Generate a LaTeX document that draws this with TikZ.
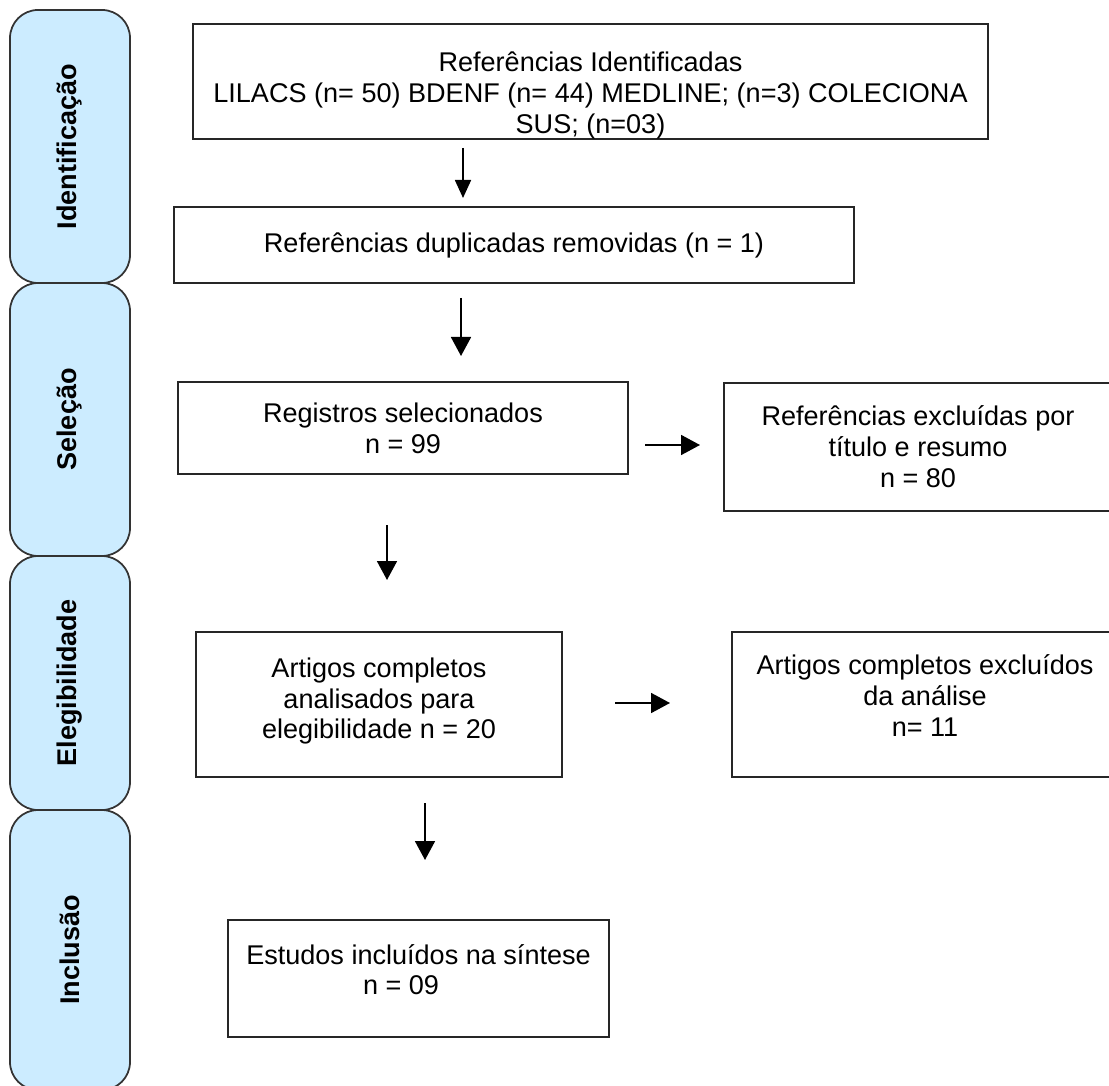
\documentclass[tikz,border=0pt]{standalone}
\usepackage{fontspec}
\setmainfont{Liberation Sans}
\usetikzlibrary{positioning, arrows.meta}
\definecolor{stagefill}{RGB}{204,236,255}

\begin{document}
\begin{tikzpicture}[
        font=\fontsize{15.4}{17.6}\selectfont,
        stage/.style={draw=black!80, line width=1pt, fill=stagefill,
            rounded corners=0.56cm, minimum width=2.4cm,
            font=\fontsize{15.4}{17.6}\selectfont\bfseries},
        box/.style={draw=black!85, line width=1pt, align=center, inner sep=0pt},
        flow/.style={-{Triangle[width=0.4cm,length=0.38cm]}, line width=1pt}
    ]
            \useasboundingbox (0,0) rectangle (22.18,-21.72);
            % stages on the left
            \node[stage, minimum height=5.46cm] (idf) at (1.4,-2.93) {\rotatebox{90}{Identificação}};
            \node[
                stage,
                minimum height=5.46cm,
                node distance=5.46cm,
                below of=idf
            ] (sel) {\rotatebox{90}{Seleção}};
            \node[
                stage,
                minimum height=5.08cm,
                node distance=5.27cm,
                below of=sel
            ] (ele) {\rotatebox{90}{Elegibilidade}};
            \node[
                stage,
                minimum height=5.6cm,
                node distance=5.34cm,
                below of=ele
            ] (inc) {\rotatebox{90}{Inclusão}};
            % boxes
            \node[box, minimum width=15.9cm, minimum height=2.18cm] (ref) at (11.81,-1.63)
                {\rule{0pt}{0.95cm}Referências Identificadas\\LILACS (n= 50) BDENF (n= 44) MEDLINE; (n=3) COLECIONA\\SUS; (n=03)};
            \node[box, minimum width=13.6cm, minimum height=1.52cm] (dup) at (10.28,-4.9)
                {Referências duplicadas removidas (n = 1)};
            \node[box, minimum width=9cm, minimum height=1.84cm] (reg) at (8.06,-8.56)
                {Registros selecionados\\n = 99};
            \node[box, minimum width=7.76cm, minimum height=2.56cm] (exc) at (18.36,-8.94)
                {Referências excluídas por\\título e resumo\\n = 80};
            \node[box, minimum width=7.32cm, minimum height=2.9cm] (art) at (7.58,-14.09)
                {Artigos completos\\analisados para\\elegibilidade n = 20\rule[-0.25cm]{0pt}{0pt}};
            \node[box, minimum width=7.72cm, minimum height=2.9cm] (axc) at (18.5,-14.09)
                {Artigos completos excluídos\\da análise\\n= 11\rule[-0.35cm]{0pt}{0pt}};
            \node[box, minimum width=7.62cm, minimum height=2.34cm] (syn) at (8.37,-19.57)
                {Estudos incluídos na síntese\\n = 09\hspace*{0.7cm}\rule[-0.36cm]{0pt}{0pt}};
            % arrow ends
            \node[coordinate, name=p1] at (9.26,-2.96) {};
            \node[coordinate, name=q1] at (9.26,-3.96) {};
            \node[coordinate, name=p2] at (9.22,-5.96) {};
            \node[coordinate, name=q2] at (9.22,-7.12) {};
            \node[coordinate, name=p3] at (7.74,-10.5) {};
            \node[coordinate, name=q3] at (7.74,-11.6) {};
            \node[coordinate, name=p4] at (8.5,-16.06) {};
            \node[coordinate, name=q4] at (8.5,-17.2) {};
            \node[coordinate, name=r1] at (12.9,-8.9) {};
            \node[coordinate, name=s1] at (14.0,-8.9) {};
            \node[coordinate, name=r2] at (12.3,-14.06) {};
            \node[coordinate, name=s2] at (13.4,-14.06) {};
            \draw[flow, -{Triangle[width=0.32cm,length=0.36cm]}] (p1) -- (q1);
            \draw[flow] (p2) -- (q2);
            \draw[flow] (p3) -- (q3);
            \draw[flow] (p4) -- (q4);
            \draw[flow] (r1) -- (s1);
            \draw[flow] (r2) -- (s2);
        \end{tikzpicture}
\end{document}
